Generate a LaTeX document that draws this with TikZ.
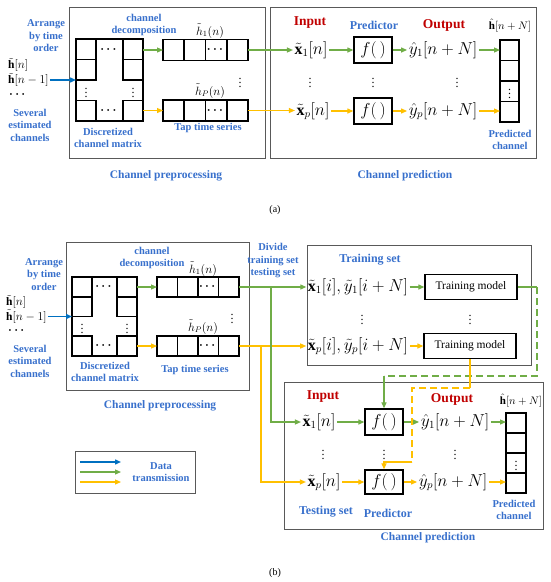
\documentclass[tikz,border=0pt]{standalone}
\usepackage{amsmath}
\usepackage{fontspec}
\setmainfont{Liberation Serif}
\usetikzlibrary{arrows.meta, positioning, calc}
\definecolor{tblue}{RGB}{56,112,204}
\definecolor{ablue}{RGB}{0,112,192}
\definecolor{agreen}{RGB}{112,173,71}
\definecolor{ayellow}{RGB}{255,192,0}
\definecolor{tred}{RGB}{192,0,0}
\definecolor{pgray}{RGB}{89,89,89}

\begin{document}
\begin{tikzpicture}[x=1pt, y=-1pt,
  panel/.style={draw=pgray, line width=1.2pt, anchor=north west, inner sep=0pt},
  grid/.style={draw, line width=1.6pt, inner sep=0pt, outer sep=0pt},
  tcell/.style={grid, minimum width=20pt, minimum height=20pt},
  fnbox/.style={draw, line width=1.3pt, minimum width=38pt, minimum height=26pt,
    inner sep=0pt, font=\fontsize{16}{18}\selectfont},
  mdlbox/.style={draw, line width=1.3pt, minimum width=92pt, minimum height=25pt,
    font=\fontsize{11.5}{13}\selectfont},
  lbl/.style={text=tblue, font=\fontsize{10.5}{12.5}\selectfont\bfseries, align=center, inner sep=1pt},
  capt/.style={text=tblue, font=\fontsize{11.5}{13}\selectfont\bfseries, inner sep=1pt},
  hdr/.style={text=tred, font=\fontsize{13.5}{15}\selectfont\bfseries, inner sep=1pt},
  sig/.style={font=\fontsize{16}{18}\selectfont, inner sep=1.5pt},
  ssig/.style={font=\fontsize{11.5}{13}\selectfont, inner sep=1pt},
  ell/.style={font=\fontsize{12}{12}\selectfont\boldmath, inner sep=0pt},
  arrB/.style={-{Triangle[length=6pt,width=5pt]}, line width=1.4pt, draw=ablue},
  arrG/.style={-{Triangle[length=6pt,width=5pt]}, line width=1.2pt, draw=agreen},
  arrY/.style={-{Triangle[length=6pt,width=5pt]}, line width=1.2pt, draw=ayellow},
  grnline/.style={line width=1.2pt, draw=agreen},
  ylwline/.style={line width=1.2pt, draw=ayellow}
]
\useasboundingbox (0,0) rectangle (550,582);

% ================= (a) =================
\node[panel, minimum width=196pt, minimum height=151pt] (prepA) at (69,7) {};
\node[panel, minimum width=266pt, minimum height=151pt] (predA) at (270,7) {};

% discretized channel matrix
\node[grid, anchor=north west, minimum width=67pt, minimum height=82pt] (matA) at (76,39) {};
\node[tcell, minimum height=20.5pt, anchor=north west] (mA11) at (matA.north west) {};
\node[tcell, minimum height=20.5pt, below=0pt of mA11] (mA21) {};
\node[tcell, minimum height=20.5pt, anchor=south west] (mA41) at (matA.south west) {};
\node[tcell, minimum height=20.5pt, anchor=north east] (mA13) at (matA.north east) {};
\node[tcell, minimum height=20.5pt, below=0pt of mA13] (mA23) {};
\node[tcell, minimum height=20.5pt, anchor=south east] (mA43) at (matA.south east) {};
\node[ell] at (matA.north |- mA11) {$\cdots$};
\node[ell] at (matA.south |- mA41) {$\cdots$};
\node[ell] at ($(mA21.south)!0.5!(mA41.north)$) {$\vdots$};
\node[ell] at ($(mA23.south)!0.5!(mA43.north)$) {$\vdots$};

% tap time series
\node[tcell, minimum width=21.25pt, minimum height=21pt, anchor=north west] (tA11) at (163,39.5) {};
\node[tcell, minimum width=21.25pt, minimum height=21pt, anchor=north west] (tAP1) at (163,100) {};
\foreach \i [count=\j from 2] in {1,2,3} {
  \node[tcell, minimum width=21.25pt, minimum height=21pt, right=0pt of tA1\i] (tA1\j) {};
  \node[tcell, minimum width=21.25pt, minimum height=21pt, right=0pt of tAP\i] (tAP\j) {};
}
\node[ell] at (tA13) {$\cdots$};
\node[ell] at (tAP3) {$\cdots$};
\node[ell] at (240,80) {$\vdots$};

\node[lbl] (arrA) at (46,36) {Arrange\\by time\\order};
\node[ssig, anchor=west] (hnA) at (7,65) {$\tilde{\mathbf{h}}[n]$};
\node[ssig, anchor=west] (hn1A) at (7,80) {$\tilde{\mathbf{h}}[n-1]$};
\node[ell, anchor=west] (hdA) at (9,95) {$\cdots$};
\node[lbl] (sevA) at (30,125) {Several\\estimated\\channels};
\node[lbl] (decA) at (144,25) {channel\\decomposition};
\node[ssig] (h1A) at (210,31) {$\tilde{h}_1(n)$};
\node[ssig] (hPA) at (210,91) {$\tilde{h}_P(n)$};
\node[lbl] (dcmA) at (108,138) {Discretized\\channel matrix};
\node[lbl] (tapA) at (208,128) {Tap time series};
\node[capt] (prepcA) at (166,176) {Channel preprocessing};

\draw[arrB] (hn1A.east) -- (hn1A.east -| matA.west);
\draw[arrG] (matA.east |- tA11) -- (tA11.west);
\draw[arrY] (matA.east |- tAP1) -- (tAP1.west);

% predictor
\node[hdr] (inA) at (310,23) {Input};
\node[capt, font=\fontsize{12}{14}\selectfont\bfseries] (prdA) at (374,25) {Predictor};
\node[hdr] (outA) at (444,25) {Output};
\node[ssig, font=\fontsize{11}{13}\selectfont] (hhA) at (510,26) {$\hat{\mathbf{h}}[n+N]$};
\node[sig] (x1A) at (311,50) {$\tilde{\mathbf{x}}_1[n]$};
\node[fnbox] (f1A) at (373,50) {$f(\,)$};
\node[sig] (y1A) at (443,50) {$\hat{y}_1[n+N]$};
\node[sig] (xpA) at (313,111) {$\tilde{\mathbf{x}}_p[n]$};
\node[fnbox] (fpA) at (373,111) {$f(\,)$};
\node[sig] (ypA) at (443,111) {$\hat{y}_p[n+N]$};
\node[ell] at (310,80) {$\vdots$};
\node[ell] at (373,80) {$\vdots$};
\node[ell] at (457,80) {$\vdots$};

\node[tcell, minimum width=19pt, minimum height=20.5pt, anchor=north west] (vA1) at (500,40) {};
\foreach \i [count=\j from 2] in {1,2,3}
  \node[tcell, minimum width=19pt, minimum height=20.5pt, below=0pt of vA\i] (vA\j) {};
\node[ell] at (vA3) {$\vdots$};
\node[lbl] (pcA) at (510,140) {Predicted\\channel};
\node[capt] (predcA) at (405,176) {Channel prediction};

\draw[arrG] (tA14.east) -- (tA14.east -| x1A.west);
\draw[arrG] (x1A.east) -- (x1A.east -| f1A.west);
\draw[arrG] (f1A.east) -- (f1A.east -| y1A.west);
\draw[arrG] (y1A.east) -- (y1A.east -| vA1.west);
\draw[arrY] (tAP4.east) -- (tAP4.east -| xpA.west);
\draw[arrY] (xpA.east) -- (xpA.east -| fpA.west);
\draw[arrY] (fpA.east) -- (fpA.east -| ypA.west);
\draw[arrY] (ypA.east) -- (ypA.east -| vA4.west);

\node[font=\fontsize{10}{12}\selectfont] (capa) at (275,210) {(a)};

% ================= (b) =================
\node[panel, minimum width=183pt, minimum height=148pt] (prepB) at (66,242) {};
\node[panel, minimum width=224pt, minimum height=120pt] (trainB) at (307,245) {};
\node[panel, minimum width=259pt, minimum height=147pt] (predB) at (284,382) {};

% discretized channel matrix
\node[grid, anchor=north west, minimum width=65pt, minimum height=79pt] (matB) at (72,277) {};
\node[tcell, minimum height=19.75pt, anchor=north west] (mB11) at (matB.north west) {};
\node[tcell, minimum height=19.75pt, below=0pt of mB11] (mB21) {};
\node[tcell, minimum height=19.75pt, anchor=south west] (mB41) at (matB.south west) {};
\node[tcell, minimum height=19.75pt, anchor=north east] (mB13) at (matB.north east) {};
\node[tcell, minimum height=19.75pt, below=0pt of mB13] (mB23) {};
\node[tcell, minimum height=19.75pt, anchor=south east] (mB43) at (matB.south east) {};
\node[ell] at (matB.north |- mB11) {$\cdots$};
\node[ell] at (matB.south |- mB41) {$\cdots$};
\node[ell] at ($(mB21.south)!0.5!(mB41.north)$) {$\vdots$};
\node[ell] at ($(mB23.south)!0.5!(mB43.north)$) {$\vdots$};

% tap time series
\node[tcell, minimum width=20.5pt, anchor=north west] (tB11) at (157,277) {};
\node[tcell, minimum width=20.5pt, anchor=north west] (tBP1) at (157,336) {};
\foreach \i [count=\j from 2] in {1,2,3} {
  \node[tcell, minimum width=20.5pt, right=0pt of tB1\i] (tB1\j) {};
  \node[tcell, minimum width=20.5pt, right=0pt of tBP\i] (tBP\j) {};
}
\node[ell] at (tB13) {$\cdots$};
\node[ell] at (tBP3) {$\cdots$};
\node[ell] at (232,316) {$\vdots$};

\node[lbl] (arrB) at (44,274.5) {Arrange\\by time\\order};
\node[ssig, anchor=west] (hnB) at (5,302) {$\tilde{\mathbf{h}}[n]$};
\node[ssig, anchor=west] (hn1B) at (5,316.5) {$\tilde{\mathbf{h}}[n-1]$};
\node[ell, anchor=west] (hdB) at (8,331) {$\cdots$};
\node[lbl] (sevB) at (30,361) {Several\\estimated\\channels};
\node[lbl] (decB) at (152,258) {channel\\decomposition};
\node[ssig] (h1B) at (203,269) {$\tilde{h}_1(n)$};
\node[ssig] (hPB) at (203,327) {$\tilde{h}_P(n)$};
\node[lbl] (dcmB) at (105,372) {Discretized\\channel matrix};
\node[lbl] (tapB) at (195,370) {Tap time series};
\node[capt] (prepcB) at (160,406) {Channel preprocessing};

\draw[arrB] (hn1B.east) -- (hn1B.east -| matB.west);
\draw[arrG] (matB.east |- tB11) -- (tB11.west);
\draw[arrY] (matB.east |- tBP1) -- (tBP1.west);

\node[lbl] (divB) at (273,261) {Divide\\training set\\testing set};

% training set
\node[capt, font=\fontsize{12}{14}\selectfont\bfseries] (tsB) at (370,260) {Training set};
\node[sig] (x1iB) at (358,287) {$\tilde{\mathbf{x}}_1[i],\tilde{y}_1[i+N]$};
\node[mdlbox] (tm1) at (471,287) {Training model};
\node[sig] (xpiB) at (358,346) {$\tilde{\mathbf{x}}_p[i],\tilde{y}_p[i+N]$};
\node[mdlbox] (tmP) at (470,346) {Training model};
\node[ell] at (362,317) {$\vdots$};
\node[ell] at (470,317) {$\vdots$};

% channel prediction
\node[hdr] (inB) at (323,397) {Input};
\node[hdr] (outB) at (452,399) {Output};
\node[ssig, font=\fontsize{11}{13}\selectfont] (hhB) at (521,401) {$\hat{\mathbf{h}}[n+N]$};
\node[sig] (x1nB) at (319,422) {$\tilde{\mathbf{x}}_1[n]$};
\node[fnbox] (f1B) at (384,422) {$f(\,)$};
\node[sig] (y1nB) at (455,422) {$\hat{y}_1[n+N]$};
\node[sig] (xpnB) at (324,482) {$\tilde{\mathbf{x}}_p[n]$};
\node[fnbox, minimum height=24pt] (fpB) at (384,482) {$f(\,)$};
\node[sig] (ypnB) at (453,482) {$\hat{y}_p[n+N]$};
\node[ell] at (323,452) {$\vdots$};
\node[ell] at (384,452) {$\vdots$};
\node[ell] at (455,452) {$\vdots$};

\node[tcell, anchor=north west] (vB1) at (506,413) {};
\foreach \i [count=\j from 2] in {1,2,3}
  \node[tcell, below=0pt of vB\i] (vB\j) {};
\node[ell] at (vB3) {$\vdots$};

\node[capt, font=\fontsize{12}{14}\selectfont\bfseries] (tstB) at (326,512) {Testing set};
\node[capt, font=\fontsize{12}{14}\selectfont\bfseries] (prdB) at (388,513) {Predictor};
\node[lbl] (pcB) at (514,510) {Predicted\\channel};
\node[capt] (predcB) at (428,538) {Channel prediction};

% data flow
\coordinate (gsplit) at (271,287);
\coordinate (ysplit) at (261,346);
\draw[arrG] (tB14.east) -- (tB14.east -| x1iB.west);
\draw[arrY] (tBP4.east) -- (tBP4.east -| xpiB.west);
\draw[arrG] (gsplit) |- (x1nB.west);
\draw[arrY] (ysplit) |- (xpnB.west);
\draw[arrG] (x1iB.east) -- (x1iB.east -| tm1.west);
\draw[arrY] (xpiB.east) -- (xpiB.east -| tmP.west);

\draw[arrG] (x1nB.east) -- (x1nB.east -| f1B.west);
\draw[arrG] (f1B.east) -- (f1B.east -| y1nB.west);
\draw[arrG] (y1nB.east) -- (y1nB.east -| vB1.west);
\draw[arrY] (xpnB.east) -- (xpnB.east -| fpB.west);
\draw[arrY] (fpB.east) -- (fpB.east -| ypnB.west);
\draw[arrY] (ypnB.east) -- (ypnB.east -| vB4.west);

% trained models to predictors
\coordinate (gturn) at (537,376);
\coordinate (yturn1) at (412,388);
\coordinate (yturn2) at (412,462);
\draw[grnline] (tm1.east) -- (tm1.east -| gturn);
\draw[grnline, dash pattern=on 7pt off 4pt] (tm1.east -| gturn) -- (gturn) -- (gturn -| f1B.north);
\draw[arrG] (gturn -| f1B.north) -- (f1B.north);
\draw[ylwline] (tmP.south) -- (tmP.south |- yturn1);
\draw[ylwline, dash pattern=on 7pt off 4pt] (tmP.south |- yturn1) -- (yturn1) -- (yturn2);
\draw[arrY] (yturn2) -- (yturn2 -| fpB.north) -- (fpB.north);

% legend
\node[panel, minimum width=120pt, minimum height=42pt] (lgd) at (75,451) {};
\foreach \c/\y [count=\i] in {arrB/462, arrG/472, arrY/482} {
  \coordinate (ls\i) at (80,\y);
  \coordinate (le\i) at (121,\y);
  \draw[\c] (ls\i) -- (le\i);
}
\node[lbl] (lgt) at (161,472) {Data\\transmission};

\node[font=\fontsize{10}{12}\selectfont] (capb) at (275,573) {(b)};
\end{tikzpicture}
\end{document}
